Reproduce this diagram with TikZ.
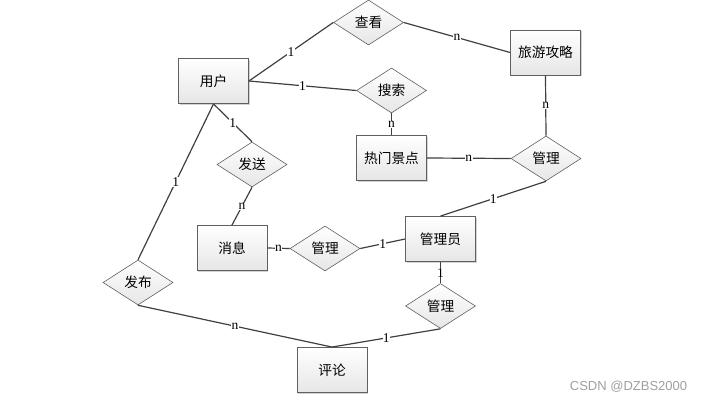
\documentclass[tikz,border=0pt]{standalone}
\usepackage{fontspec}
\setmainfont{Liberation Serif}
\newfontfamily\cjk{Noto Sans CJK SC}
\newfontfamily\wmfont{Liberation Sans}
\usetikzlibrary{shapes.geometric,shadows}
\definecolor{edgegray}{HTML}{606060}
\definecolor{linegray}{HTML}{404040}
\definecolor{fillbot}{HTML}{E6E6E6}
\tikzset{
  entity/.style={draw=edgegray, line width=0.9pt, minimum width=70pt, minimum height=45pt,
    top color=white, bottom color=fillbot, inner sep=0pt,
    drop shadow={shadow xshift=1pt, shadow yshift=-1pt, fill=gray, opacity=0.35},
    font=\cjk\fontsize{13.7}{13.7}\selectfont},
  relation/.style={diamond, aspect=1.55, draw=edgegray, line width=0.6pt, minimum width=70pt, minimum height=45pt,
    top color=white, bottom color=fillbot, inner sep=0pt,
    font=\cjk\fontsize{13.7}{13.7}\selectfont},
  conn/.style={draw=linegray, line width=1.2pt},
  card/.style={fill=white, inner sep=0.3pt, font=\fontsize{13.5}{13.5}\selectfont, text=black}
}
\begin{document}
\begin{tikzpicture}[x=1pt,y=-1pt]
\useasboundingbox (0,0) rectangle (702,402);
% entities
\node[entity] (user) at (213.5,81) {用户};
\node[entity] (guide) at (545.5,52.5) {旅游攻略};
\node[entity] (spot) at (391.5,158) {热门景点};
\node[entity] (msg) at (232,248) {消息};
\node[entity] (admin) at (440.5,239) {管理员};
\node[entity] (comment) at (332,370) {评论};
% relations
\node[relation] (view) at (368.5,22.5) {查看};
\node[relation] (search) at (391.5,90.5) {搜索};
\node[relation] (send) at (252,164.5) {发送};
\node[relation] (mgr1) at (546,158.5) {管理};
\node[relation] (mgr2) at (325,248.5) {管理};
\node[relation] (publish) at (138,282.5) {发布};
\node[relation] (mgr3) at (440.5,306) {管理};
% connectors
\draw[conn] (user.east) -- node[card]{1} (view.west);
\draw[conn] (view.east) -- node[card]{n} (guide.west);
\draw[conn] (user.east) -- node[card]{1} (search.west);
\draw[conn] (search.south) -- node[card]{n} (spot.north);
\draw[conn] (guide.south) -- node[card]{n} (mgr1.north);
\draw[conn] (spot.east) -- node[card]{n} (mgr1.west);
\draw[conn] (mgr1.south) -- node[card]{1} (admin.north);
\draw[conn] (user.south) -- node[card]{1} (send.north);
\draw[conn] (send.south) -- node[card]{n} (msg.north);
\draw[conn] (user.south) -- node[card]{1} (publish.north);
\draw[conn] (msg.east) -- node[card]{n} (mgr2.west);
\draw[conn] (mgr2.east) -- node[card]{1} (admin.west);
\draw[conn] (admin.south) -- node[card]{1} (mgr3.north);
\draw[conn] (publish.south) -- node[card]{n} (comment.north);
\draw[conn] (mgr3.south) -- node[card]{1} (comment.north);
% watermark
\node[font=\wmfont\fontsize{13}{13}\selectfont, text=gray!75, anchor=center] (wm) at (628.5,387) {CSDN @DZBS2000};
\end{tikzpicture}
\end{document}
